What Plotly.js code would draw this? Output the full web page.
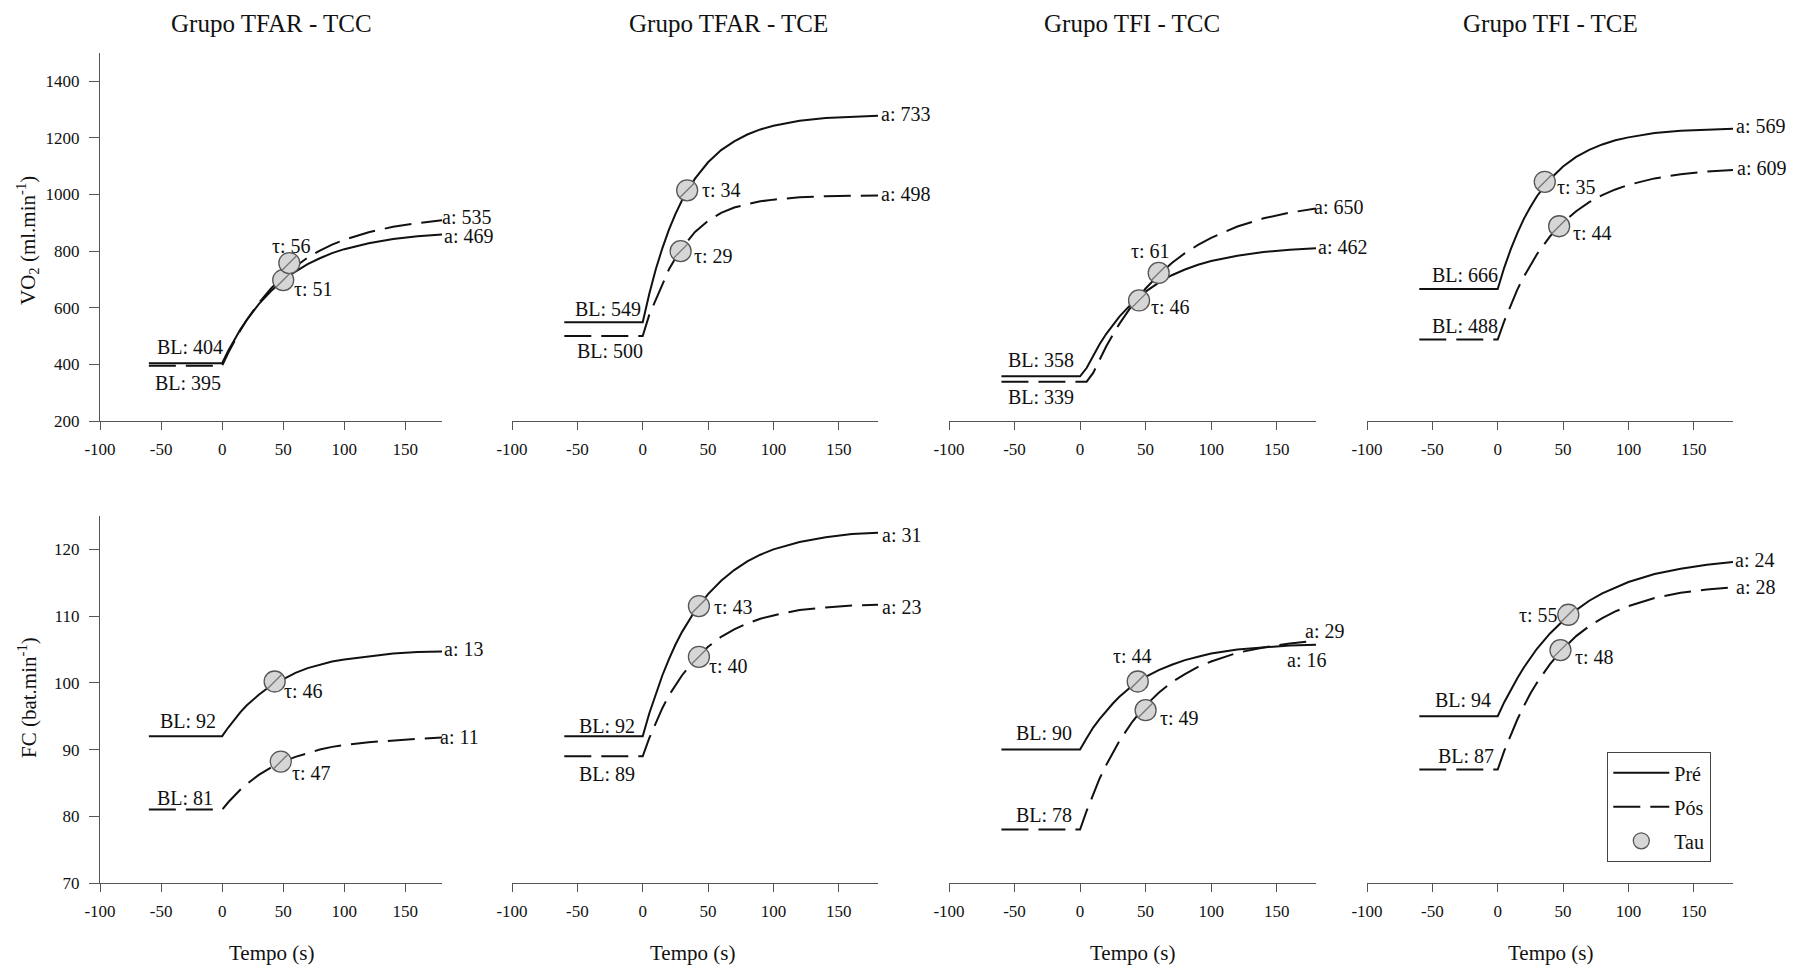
<!DOCTYPE html>
<html><head><meta charset="utf-8">
<script src="https://cdn.plot.ly/plotly-3.0.1.min.js"></script>
<style>html,body{margin:0;padding:0;background:#fff}#chart{width:1809px;height:969px}</style>
</head><body><div id="chart"></div>
<script>
// ---------------- DATA ----------------
const tempo = [-60, 0, 5, 10, 15, 20, 25, 30, 40, 50, 60, 70, 80, 90, 100, 120, 140, 160, 180];

const vo2TfarTccPre = [404, 404, 448, 487, 524, 556, 585, 613, 659, 697, 728, 754, 775, 793, 807, 828, 843, 853, 859];
const vo2TfarTccPos = [395, 395, 441, 482, 521, 556, 588, 617, 668, 711, 746, 777, 802, 823, 840, 867, 886, 899, 909];
const vo2TfarTcePre = [549, 549, 649, 736, 810, 875, 931, 979, 1056, 1114, 1157, 1188, 1212, 1230, 1243, 1261, 1270, 1275, 1278];
const vo2TfarTcePos = [500, 500, 575, 630, 685, 735, 775, 810, 868, 907, 935, 954, 966, 976, 982, 990, 994, 996, 997];
const vo2TfiTccPre  = [358, 358, 387, 432, 472, 508, 540, 569, 618, 657, 689, 715, 735, 752, 765, 784, 797, 805, 810];
const vo2TfiTccPos  = [339, 339, 339, 370, 419, 464, 505, 543, 611, 668, 716, 758, 793, 822, 847, 887, 916, 936, 951];
const vo2TfiTcePre  = [666, 666, 742, 807, 864, 914, 956, 994, 1054, 1099, 1133, 1158, 1177, 1192, 1202, 1217, 1225, 1229, 1232];
const vo2TfiTcePos  = [488, 488, 553, 612, 664, 710, 752, 789, 852, 901, 941, 973, 998, 1018, 1034, 1057, 1072, 1081, 1087];

const fcTfarTccPre = [92, 92, 93.3, 94.5, 95.6, 96.6, 97.4, 98.2, 99.6, 100.6, 101.5, 102.2, 102.7, 103.2, 103.5, 104.0, 104.4, 104.6, 104.7];
const fcTfarTccPos = [81, 81, 82.1, 83.1, 84.0, 84.8, 85.5, 86.2, 87.3, 88.2, 88.9, 89.5, 90.0, 90.4, 90.7, 91.1, 91.4, 91.6, 91.8];
const fcTfarTcePre = [92, 92, 95.4, 98.4, 101.1, 103.5, 105.7, 107.6, 110.8, 113.3, 115.3, 116.9, 118.2, 119.2, 120.0, 121.1, 121.8, 122.3, 122.5];
const fcTfarTcePos = [89, 89, 91.7, 94.1, 96.2, 98.1, 99.7, 101.1, 103.5, 105.4, 106.9, 108.0, 108.9, 109.6, 110.1, 110.9, 111.3, 111.6, 111.7];
const fcTfiTccPre  = [90, 90, 91.7, 93.3, 94.6, 95.8, 96.9, 97.9, 99.6, 100.9, 101.9, 102.7, 103.4, 103.9, 104.4, 105.0, 105.3, 105.6, 105.7];
const fcTfiTccPos  = [78, 78, 80.8, 83.4, 85.7, 87.7, 89.6, 91.3, 94.2, 96.6, 98.5, 100.1, 101.3, 102.4, 103.2, 104.5, 105.3, 105.9, 106.3];
const fcTfiTcePre  = [95, 95, 97.1, 99.0, 100.7, 102.3, 103.8, 105.1, 107.4, 109.3, 110.9, 112.3, 113.4, 114.3, 115.1, 116.3, 117.1, 117.7, 118.1];
const fcTfiTcePos  = [87, 87, 89.8, 92.3, 94.5, 96.5, 98.4, 100.0, 102.8, 105.1, 107.0, 108.5, 109.7, 110.7, 111.5, 112.7, 113.5, 114.0, 114.3];

// panel order: VO2 TFAR-TCC, TFAR-TCE, TFI-TCC, TFI-TCE, FC TFAR-TCC, TFAR-TCE, TFI-TCC, TFI-TCE
const blPre  = [404, 549, 358, 666, 92, 92, 90, 94];
const blPos  = [395, 500, 339, 488, 81, 89, 78, 87];
const aPre   = [469, 733, 462, 569, 13, 31, 16, 24];
const aPos   = [535, 498, 650, 609, 11, 23, 29, 28];
const tauPre = [51, 34, 46, 35, 46, 43, 44, 55];
const tauPos = [56, 29, 61, 44, 47, 40, 49, 48];

// tau marker positions (time, value) as seen in the picture
const tauPreT = [50, 34, 45, 36, 43, 43, 44, 54];
const tauPreY = [698, 1015, 626, 1045, 100.2, 111.5, 100.2, 110.2];
const tauPosT = [55, 29, 60, 47, 48, 43, 50, 48];
const tauPosY = [758, 800, 723, 888, 88.2, 103.9, 95.9, 104.9];

const panelTitles = ['Grupo TFAR - TCC', 'Grupo TFAR - TCE', 'Grupo TFI - TCC', 'Grupo TFI - TCE'];
const legendNames = ['Pré', 'Pós', 'Tau'];
const xTickVals = [-100, -50, 0, 50, 100, 150];
const xTickText = ['-100', '-50', '0', '50', '100', '150'];
const vo2TickVals = [200, 400, 600, 800, 1000, 1200, 1400];
const fcTickVals = [70, 80, 90, 100, 110, 120];

const curvesPre = [vo2TfarTccPre, vo2TfarTcePre, vo2TfiTccPre, vo2TfiTcePre, fcTfarTccPre, fcTfarTcePre, fcTfiTccPre, fcTfiTcePre];
const curvesPos = [vo2TfarTccPos, vo2TfarTcePos, vo2TfiTccPos, vo2TfiTcePos, fcTfarTccPos, fcTfarTcePos, fcTfiTccPos, fcTfiTcePos];

// ---------------- LAYOUT GEOMETRY ----------------
const W = 1809, H = 969;
const FONT = 'Liberation Serif, Times New Roman, serif';
const colPx = [[100, 442], [512, 878], [949, 1316], [1367, 1733]];
const rowPx = [[53, 421], [516, 883]];
const yRanges = [[200, 1500], [70, 125]];
const yTicks = [vo2TickVals, fcTickVals];
const titleCx = [271, 728, 1132, 1550];
const xTitleCx = [271, 692, 1132, 1550];

// label placement per panel: blPre, blPos, tauPre, tauPos, aPre, aPos  -> [anchor mode, dx px, dy px]
const place = [
  [['r',0,16], ['r',-2,-17], ['l',12,-9], ['c',2,17], ['l',3,-2], ['l',1,3]],
  [['r',-3,13], ['r',-1,-15], ['l',16,0], ['l',14,-5], ['l',4,2], ['l',4,1]],
  [['r',-7,16], ['r',-7,-15], ['l',13,-7], ['c',-8,22], ['l',3,1], ['l',-1,1]],
  [['r',-1,14], ['r',-1,13], ['l',13,-5], ['l',15,-7], ['l',4,3], ['l',5,2]],
  [['r',-7,15], ['r',-10,12], ['l',10,-10], ['l',12,-11], ['l',3,2], ['l',-1,1]],
  [['r',-9,10], ['r',-9,-18], ['l',16,-1], ['l',11,-9], ['l',5,-2], ['l',5,-2]],
  [['r',-9,17], ['r',-9,15], ['c',-5,25], ['l',15,-8], ['l',-28,-15], ['l',-10,10]],
  [['r',-8,16], ['r',-5,14], ['r',-11,0], ['l',16,-7], ['l',3,2], ['l',4,0]]
];

const traces = [];
const annotations = [];
const layout = {
  width: W, height: H,
  margin: {l: 0, r: 0, t: 0, b: 0},
  paper_bgcolor: '#fff', plot_bgcolor: 'rgba(0,0,0,0)',
  font: {family: FONT, color: '#111'},
  showlegend: true,
  legend: {
    x: 1607 / W, y: 1 - 752 / H, xanchor: 'left', yanchor: 'top',
    bordercolor: '#444', borderwidth: 1.3, bgcolor: '#fff',
    font: {family: FONT, size: 20, color: '#111'},
    traceorder: 'grouped', tracegroupgap: 5, itemwidth: 56
  },
  annotations: annotations
};

function sfx(p) { return p === 0 ? '' : String(p + 1); }

function label(p, text, x, y, spec) {
  const [mode, dx, dy] = spec;
  const xa = mode === 'l' ? 'left' : (mode === 'r' ? 'right' : 'center');
  const pad = mode === 'l' ? -3 : (mode === 'r' ? 3 : 0);
  annotations.push({
    xref: 'x' + sfx(p), yref: 'y' + sfx(p), x: x, y: y, text: text,
    showarrow: false, xanchor: xa, yanchor: 'middle', xshift: dx + pad, yshift: dy,
    font: {family: FONT, size: 20, color: '#111'}
  });
}

for (let p = 0; p < 8; p++) {
  const row = p < 4 ? 0 : 1, col = p % 4, s = sfx(p);
  const xa = 'xaxis' + s, ya = 'yaxis' + s;
  layout[xa] = {
    domain: [colPx[col][0] / W, colPx[col][1] / W],
    anchor: 'y' + s, range: [-100, 180], tickmode: 'array', tickvals: xTickVals, ticktext: xTickText,
    ticks: 'outside', ticklen: 8, tickwidth: 1.3, tickcolor: '#555',
    showline: true, linecolor: '#555', linewidth: 1.3,
    showgrid: false, zeroline: false, fixedrange: true,
    tickfont: {family: FONT, size: 17, color: '#111'}, ticklabelstandoff: 4
  };
  const yax = {
    domain: [1 - rowPx[row][1] / H, 1 - rowPx[row][0] / H],
    anchor: 'x' + s, range: yRanges[row],
    showgrid: false, zeroline: false, fixedrange: true
  };
  if (col === 0) {
    Object.assign(yax, {
      tickmode: 'array', tickvals: yTicks[row],
      ticks: 'outside', ticklen: 10, tickwidth: 1.3, tickcolor: '#555',
      showline: true, linecolor: '#555', linewidth: 1.3,
      tickfont: {family: FONT, size: 17, color: '#111'}, ticklabelstandoff: 6
    });
  } else {
    Object.assign(yax, {showline: false, showticklabels: false, ticks: ''});
  }
  layout[ya] = yax;

  traces.push({
    x: tempo, y: curvesPre[p], xaxis: 'x' + s, yaxis: 'y' + s, mode: 'lines',
    line: {color: '#111', width: 2}, name: legendNames[0], legendgroup: 'g1',
    showlegend: p === 0, hoverinfo: 'skip'
  });
  traces.push({
    x: tempo, y: curvesPos[p], xaxis: 'x' + s, yaxis: 'y' + s, mode: 'lines',
    line: {color: '#111', width: 2, dash: '27px,10px'}, name: legendNames[1], legendgroup: 'g2',
    showlegend: p === 0, hoverinfo: 'skip'
  });
  traces.push({
    x: [tauPreT[p], tauPosT[p]], y: [tauPreY[p], tauPosY[p]], xaxis: 'x' + s, yaxis: 'y' + s,
    mode: 'markers', name: legendNames[2], legendgroup: 'g3', showlegend: p === 0, hoverinfo: 'skip',
    marker: {symbol: 'circle', size: 21, color: '#d6d6d6', line: {color: '#555', width: 1.3}}
  });
  traces.push({
    x: [tauPreT[p], tauPosT[p]], y: [tauPreY[p], tauPosY[p]], xaxis: 'x' + s, yaxis: 'y' + s,
    mode: 'markers', showlegend: false, hoverinfo: 'skip',
    marker: {symbol: 'line-ne', size: 14, color: '#777', line: {color: '#777', width: 1.3}}
  });

  const pre = curvesPre[p], pos = curvesPos[p], last = tempo.length - 1;
  const pl = place[p];
  label(p, 'BL: ' + blPre[p], 0, pre[1], pl[0]);
  label(p, 'BL: ' + blPos[p], 0, pos[1], pl[1]);
  label(p, 'τ: ' + tauPre[p], tauPreT[p], tauPreY[p], pl[2]);
  label(p, 'τ: ' + tauPos[p], tauPosT[p], tauPosY[p], pl[3]);
  label(p, 'a: ' + aPre[p], tempo[last], pre[last], pl[4]);
  label(p, 'a: ' + aPos[p], tempo[last], pos[last], pl[5]);
}

// panel titles and x-axis titles
for (let c = 0; c < 4; c++) {
  annotations.push({xref: 'paper', yref: 'paper', x: titleCx[c] / W, y: 1 - 23 / H,
    text: panelTitles[c], showarrow: false, xanchor: 'center', yanchor: 'middle',
    font: {family: FONT, size: 25, color: '#111'}});
  annotations.push({xref: 'paper', yref: 'paper', x: xTitleCx[c] / W, y: 1 - 953 / H,
    text: 'Tempo (s)', showarrow: false, xanchor: 'center', yanchor: 'middle',
    font: {family: FONT, size: 21, color: '#111'}});
}
// y-axis titles
annotations.push({xref: 'paper', yref: 'paper', x: 27 / W, y: 1 - 241 / H, textangle: -90,
  text: 'VO<sub>2</sub> (ml.min<sup>-1</sup>)', showarrow: false, xanchor: 'center', yanchor: 'middle',
  font: {family: FONT, size: 21, color: '#111'}});
annotations.push({xref: 'paper', yref: 'paper', x: 27 / W, y: 1 - 698 / H, textangle: -90,
  text: 'FC (bat.min<sup>-1</sup>)', showarrow: false, xanchor: 'center', yanchor: 'middle',
  font: {family: FONT, size: 21, color: '#111'}});

Plotly.newPlot('chart', traces, layout, {displayModeBar: false, responsive: false});
</script>
</body></html>
